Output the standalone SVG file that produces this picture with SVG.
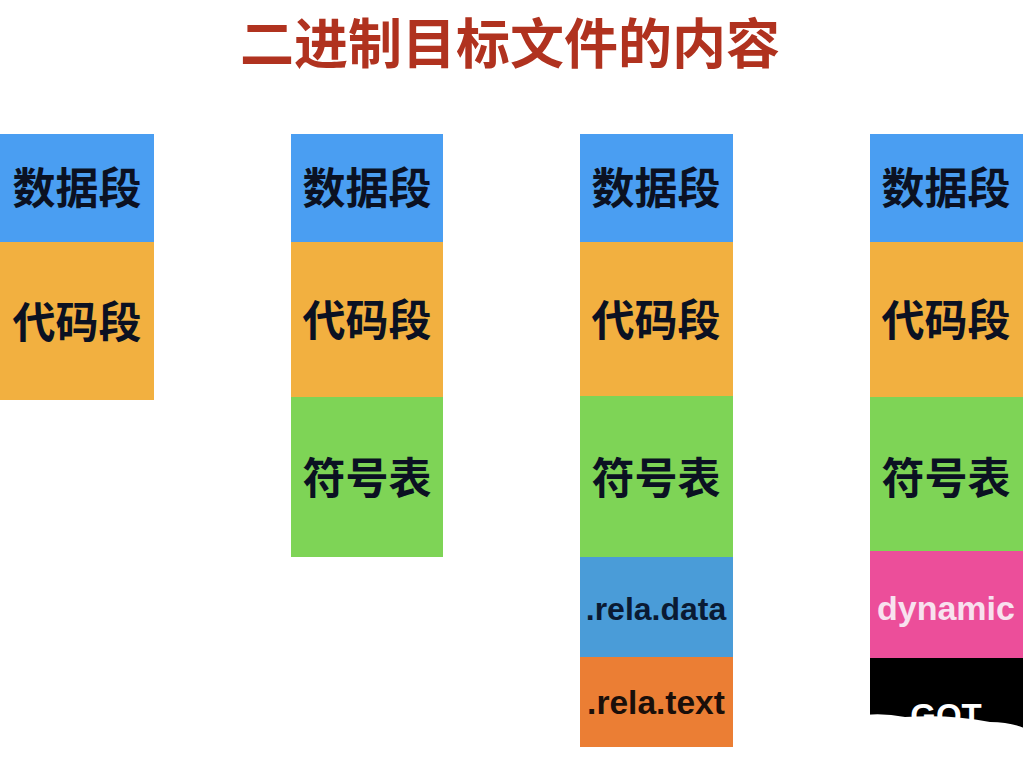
<svg xmlns="http://www.w3.org/2000/svg" width="1024" height="776" viewBox="0 0 1024 776">
<style>
.cjk{font-family:"Noto Sans CJK SC","Noto Sans",sans-serif;font-weight:bold;font-size:43px;fill:#0b1122;text-anchor:middle}
.lat{font-family:"Liberation Sans",Arial,sans-serif;font-weight:bold;text-anchor:middle}
.blue{fill:#4a9ef2}.orange{fill:#f2b040}.green{fill:#7ed456}.rblue{fill:#4a9cd8}.rorange{fill:#eb7e34}.pink{fill:#ec4e9a}.black{fill:#000}
</style>
<rect width="1024" height="776" fill="#fff"/>
<text x="510" y="64" font-family="'Noto Sans CJK SC',sans-serif" font-weight="bold" font-size="54" fill="#b0321f" text-anchor="middle">二进制目标文件的内容</text>
<g id="col1">
<rect class="blue" x="0" y="134" width="154" height="108"/>
<rect class="orange" x="0" y="242" width="154" height="158"/>
<text class="cjk" x="77" y="204">数据段</text>
<text class="cjk" x="77" y="338">代码段</text>
</g>
<g id="col2">
<rect class="blue" x="291" y="134" width="152" height="108"/>
<rect class="orange" x="291" y="242" width="152" height="155"/>
<rect class="green" x="291" y="397" width="152" height="160"/>
<text class="cjk" x="367" y="204">数据段</text>
<text class="cjk" x="367" y="336">代码段</text>
<text class="cjk" x="367" y="494">符号表</text>
</g>
<g id="col3">
<rect class="blue" x="580" y="134" width="153" height="108"/>
<rect class="orange" x="580" y="242" width="153" height="154"/>
<rect class="green" x="580" y="396" width="153" height="161"/>
<rect class="rblue" x="580" y="557" width="153" height="100"/>
<rect class="rorange" x="580" y="657" width="153" height="90"/>
<text class="cjk" x="656" y="204">数据段</text>
<text class="cjk" x="656" y="336">代码段</text>
<text class="cjk" x="656" y="494">符号表</text>
<text class="lat" x="656" y="620" font-size="32" fill="#0a1a33">.rela.data</text>
<text class="lat" x="656" y="714" font-size="33.5" fill="#1a0f0a">.rela.text</text>
</g>
<g id="col4">
<rect class="blue" x="870" y="134" width="153" height="108"/>
<rect class="orange" x="870" y="242" width="153" height="155"/>
<rect class="green" x="870" y="397" width="153" height="154"/>
<rect class="pink" x="870" y="551" width="153" height="107"/>
<rect class="black" x="870" y="658" width="153" height="118"/>
<text class="cjk" x="946" y="204">数据段</text>
<text class="cjk" x="946" y="336">代码段</text>
<text class="cjk" x="946" y="494">符号表</text>
<text class="lat" x="946" y="620" font-size="34" fill="#f8e2ef">dynamic</text>
<text class="lat" x="946" y="727" font-size="33" fill="#fff">GOT</text>
</g>
<path d="M856 716 Q880 712 905 717 Q950 714 990 722 Q1010 722 1024 728 L1024 776 L856 776 Z" fill="#fff"/>
</svg>
